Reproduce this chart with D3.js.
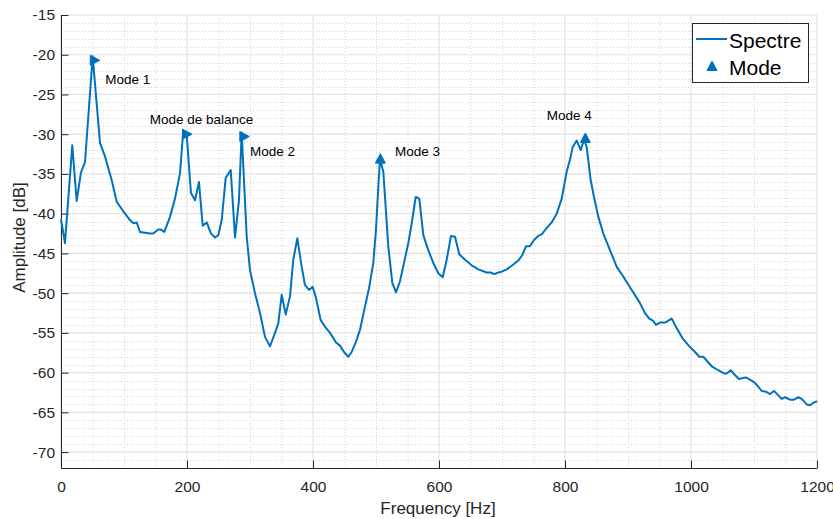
<!DOCTYPE html>
<html><head><meta charset="utf-8">
<script src="https://cdn.jsdelivr.net/npm/d3@7"></script>
<style>body{margin:0;background:#fff}svg{display:block}</style>
</head><body>
<script>
// ---- data ----
const freq = [0,6.3,17.9,24.9,31.7,38.1,50.3,61.9,69.8,80.5,88.4,98.9,109.5,114.8,120.2,125.4,141.3,146.5,154.4,158.7,164,173,181,188.9,194.1,199.5,206.3,212.7,219,224.9,231.3,238.1,244.4,249.7,255.1,261.4,269.4,276.2,282.5,286.8,294.8,300,307.9,315.9,323.8,331.7,339.7,344.9,350.3,356.7,363.5,368.7,375.1,382.1,387.3,393.7,399.5,404.8,412.2,419,427,436.5,442.9,449.2,456,461.4,468.3,474.6,481.4,489.4,495.7,500,503.7,506.3,511.6,519.5,525.9,531.7,538.1,544.4,551.3,556.7,563,568.7,575.1,583,591,598.9,605.9,612.2,619,625.4,632.2,641.3,651.9,662.4,675.7,682.1,687.8,694.1,699.5,707.5,718,725.9,732.2,738.1,744.4,750.8,757.6,763,771,778.9,786.8,794.8,802.7,807.9,812.2,818.6,824.9,830.2,834.4,840.8,846,852.9,860.8,871.4,882.1,892.5,905.9,917.9,927,933.8,940.2,944.4,950.8,958.7,969.4,977.3,986.8,997.3,1006.3,1013.2,1019.5,1032.9,1043.3,1052.4,1056.7,1063,1069.8,1076.2,1086.8,1096.3,1101.6,1112.2,1119,1125.4,1131.7,1143.9,1149.2,1157.1,1163.5,1170.3,1175.7,1183.7,1188.9,1194.1,1200];
const amp = [-40.7,-43.7,-31.4,-38.4,-34.8,-33.5,-20.2,-31.1,-32.8,-35.8,-38.5,-39.7,-40.8,-41.2,-41.1,-42.3,-42.5,-42.5,-42.0,-42.0,-42.3,-40.4,-38.1,-34.9,-29.5,-30.0,-37.4,-38.3,-36.0,-41.5,-41.1,-42.5,-43.0,-42.7,-40.8,-35.5,-34.5,-43.0,-38.3,-29.8,-42.9,-47.1,-50.0,-52.5,-55.5,-56.7,-55.0,-53.8,-50.2,-52.7,-50.4,-45.8,-43.1,-46.7,-49.0,-49.6,-49.2,-50.6,-53.4,-54.2,-55.0,-56.2,-56.6,-57.4,-58.0,-57.4,-56.1,-54.6,-52.1,-49.2,-46.2,-42.0,-36.6,-33.2,-34.7,-44.1,-48.7,-49.9,-48.5,-46.2,-43.7,-41.2,-37.9,-38.1,-42.7,-44.6,-46.2,-47.5,-48.0,-45.8,-42.8,-42.9,-45.1,-45.8,-46.5,-47.0,-47.4,-47.4,-47.6,-47.4,-47.3,-47.0,-46.4,-45.9,-45.2,-44.1,-44.1,-43.3,-42.8,-42.6,-41.8,-41.1,-40.0,-38.1,-34.7,-33.2,-31.6,-30.8,-32.0,-30.7,-31.6,-35.8,-37.9,-40.4,-42.5,-44.6,-46.7,-47.9,-49.6,-51.1,-52.5,-53.2,-53.5,-54.0,-53.7,-53.7,-53.2,-54.4,-55.7,-56.7,-57.4,-58.0,-58.0,-59.2,-59.7,-60.1,-60.1,-59.7,-60.3,-60.8,-60.6,-61.0,-61.3,-62.3,-62.4,-62.7,-62.3,-63.3,-63.1,-63.4,-63.4,-63.1,-63.3,-64.0,-64.1,-63.8,-63.6];

const modeNames  = ["Mode 1","Mode de balance","Mode 2","Mode 3","Mode 4"];
const modeFreq   = [52, 198.4, 289.4, 506.9, 832.3];
const modeAmp    = [-20.7, -30.0, -30.3, -33.2, -30.6];
const modeShape  = ["right","right","right","up","up"];
const labelFreq  = [70.3, 140.8, 300, 530.2, 771];
const labelAmp   = [-23.05, -28.1, -32.2, -32.2, -27.6];

const xTicks = [0,200,400,600,800,1000,1200];
const yTicks = [-70,-65,-60,-55,-50,-45,-40,-35,-30,-25,-20,-15];
const xDomain = [0,1200];
const yDomain = [-72,-15];
const legendLabels = ["Spectre","Mode"];

// ---- layout ----
const W = 833, H = 519;
const m = {left:61, top:15, right:16, bottom:51};
const pw = W - m.left - m.right, ph = H - m.top - m.bottom;
const blue = "#0072BD", axc = "#262626";
const font = "'Liberation Sans', Arial, Helvetica, sans-serif";

const svg = d3.select("body").append("svg").attr("width",W).attr("height",H)
  .style("font-family",font);
const g = svg.append("g").attr("transform",`translate(${m.left},${m.top})`);

const x = d3.scaleLinear().domain(xDomain).range([0,pw]);
const y = d3.scaleLinear().domain(yDomain).range([ph,0]);

// minor grid
const xMinor = d3.range(xDomain[0], xDomain[1]+1, 50).filter(v => v%200!==0);
const yMinor = d3.range(-72, -14, 1).filter(v => v%5!==0);
g.append("g").selectAll("line").data(xMinor).join("line")
  .attr("x1",d=>x(d)+0.5).attr("x2",d=>x(d)+0.5).attr("y1",0).attr("y2",ph)
  .attr("stroke","#d4d4d4").attr("stroke-width",1).attr("stroke-dasharray","1,2");
g.append("g").selectAll("line").data(yMinor).join("line")
  .attr("y1",d=>Math.round(y(d))+0.5).attr("y2",d=>Math.round(y(d))+0.5).attr("x1",0).attr("x2",pw)
  .attr("stroke","#d4d4d4").attr("stroke-width",1).attr("stroke-dasharray","1,2");
// major grid
g.append("g").selectAll("line").data(xTicks).join("line")
  .attr("x1",d=>x(d)).attr("x2",d=>x(d)).attr("y1",0).attr("y2",ph)
  .attr("stroke","#e2e2e2").attr("stroke-width",1.2);
g.append("g").selectAll("line").data(yTicks).join("line")
  .attr("y1",d=>y(d)).attr("y2",d=>y(d)).attr("x1",0).attr("x2",pw)
  .attr("stroke","#e2e2e2").attr("stroke-width",1.2);

// axes
const fmt = d => String(d);
const xAxis = g.append("g").attr("transform",`translate(0,${ph})`)
  .call(d3.axisBottom(x).tickValues(xTicks).tickFormat(fmt).tickSizeInner(-7.5).tickSizeOuter(0).tickPadding(13));
const yAxis = g.append("g")
  .call(d3.axisLeft(y).tickValues(yTicks).tickFormat(fmt).tickSizeInner(-7.5).tickSizeOuter(0).tickPadding(6));
[xAxis,yAxis].forEach(a=>{
  a.select(".domain").attr("stroke",axc).attr("stroke-width",1);
  a.selectAll(".tick line").attr("stroke",axc);
  a.selectAll("text").attr("fill",axc).style("font-size","15.5px").style("font-family",font);
});

// line
const line = d3.line().x((d,i)=>x(freq[i])).y((d,i)=>y(amp[i]));
g.append("path").datum(amp).attr("d",line).attr("fill","none")
  .attr("stroke",blue).attr("stroke-width",2).attr("stroke-linejoin","round");

// markers
function tri(shape){
  return shape==="up" ? "M0,-6L5,3.5L-5,3.5Z" : "M6,0L-3.5,-5L-3.5,5Z";
}
g.append("g").selectAll("path").data(modeFreq).join("path")
  .attr("transform",(d,i)=>`translate(${x(d)},${y(modeAmp[i])})`)
  .attr("d",(d,i)=>tri(modeShape[i])).attr("fill",blue).attr("stroke",blue).attr("stroke-width",1);

// labels
g.append("g").selectAll("text").data(modeNames).join("text")
  .attr("x",(d,i)=>x(labelFreq[i])).attr("y",(d,i)=>y(labelAmp[i])).attr("dy","0.35em")
  .style("font-size","13.5px").attr("fill","#000").text(d=>d);

// axis labels
svg.append("text").attr("x",m.left+pw/2 - 1).attr("y",514).attr("text-anchor","middle")
  .style("font-size","17px").attr("fill",axc).text("Frequency [Hz]");
svg.append("text").attr("transform",`translate(25,${m.top+ph/2 - 4}) rotate(-90)`).attr("text-anchor","middle")
  .style("font-size","17px").attr("fill",axc).text("Amplitude [dB]");

// legend
const lg = svg.append("g");
lg.append("rect").attr("x",692.5).attr("y",23.5).attr("width",116).attr("height",59)
  .attr("fill","#fff").attr("stroke",axc).attr("stroke-width",1);
lg.append("line").attr("x1",696).attr("x2",727).attr("y1",39).attr("y2",39).attr("stroke",blue).attr("stroke-width",2);
lg.append("path").attr("transform","translate(712,67)").attr("d",tri("up")).attr("fill",blue).attr("stroke",blue);
lg.selectAll("text").data(legendLabels).join("text")
  .attr("x",729).attr("y",(d,i)=>i===0?47.5:75).style("font-size","21px").attr("fill","#000").text(d=>d);
</script>
</body></html>
